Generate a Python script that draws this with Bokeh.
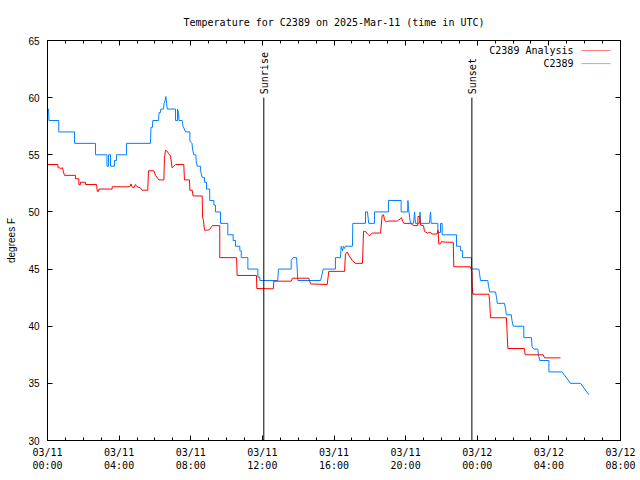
import math
from bokeh.plotting import figure
from bokeh.models import Range1d, FixedTicker, LinearAxis, Label, BoxAnnotation, CustomJSTickFormatter
from bokeh.core.properties import value
from bokeh.embed import file_html
from bokeh.resources import INLINE

title_text = "Temperature for C2389 on 2025-Mar-11 (time in UTC)"
y_label = "degrees F"
x_ticks = [0, 4, 8, 12, 16, 20, 24, 28, 32]
x_minor = list(range(0, 33))
x_tick_labels = ["03/11\n00:00", "03/11\n04:00", "03/11\n08:00", "03/11\n12:00",
                 "03/11\n16:00", "03/11\n20:00", "03/12\n00:00", "03/12\n04:00",
                 "03/12\n08:00"]
y_ticks = [30, 35, 40, 45, 50, 55, 60, 65]

series_names = ["C2389 Analysis", "C2389"]

# hours since 03/11 00:00 UTC, temperature in F (vertices of traced line)
analysis_hours = [
    0.00, 0.58, 0.59, 0.69, 0.73, 0.84, 0.89, 0.95, 1.56, 1.56,
    1.75, 1.75, 1.84, 1.84, 2.12, 2.12, 2.74, 2.78, 2.85, 2.87,
    3.61, 3.61, 4.60, 4.66, 4.72, 4.82, 4.91, 5.01, 5.19, 5.29,
    5.60, 5.64, 5.94, 6.03, 6.13, 6.22, 6.50, 6.53, 6.59, 6.69,
    6.76, 6.87, 6.96, 7.05, 7.15, 7.61, 7.65, 7.93, 7.95, 8.08,
    8.13, 8.64, 8.66, 8.71, 8.77, 8.94, 9.05, 9.16, 9.20, 9.62,
    9.62, 10.56, 10.59, 11.67, 11.69, 12.61, 12.64, 13.61, 13.68, 14.59,
    14.69, 15.62, 15.71, 16.59, 16.64, 16.74, 16.83, 17.02, 17.20, 17.59,
    17.65, 17.76, 17.87, 17.98, 18.13, 18.60, 18.69, 18.77, 18.82, 18.93,
    18.99, 19.53, 19.60, 19.71, 19.77, 19.83, 19.90, 20.27, 20.46, 20.68,
    20.69, 20.79, 20.83, 21.00, 21.05, 21.22, 21.39, 21.48, 21.76, 21.81,
    21.85, 21.95, 22.00, 22.23, 22.66, 22.69, 23.62, 23.70, 23.72, 23.76,
    24.65, 24.69, 24.74, 25.63, 25.71, 26.64, 26.67, 27.68, 27.76, 28.65,
]
analysis_temp = [
    54.15, 54.15, 53.86, 53.86, 53.8, 53.86, 53.5, 53.2, 53.2, 52.9,
    52.9, 52.4, 52.4, 52.6, 52.6, 52.4, 52.4, 51.8, 51.8, 52.0,
    52.0, 52.2, 52.2, 52.45, 52.2, 52.1, 52.4, 52.2, 52.1, 51.9,
    51.9, 53.6, 53.6, 53.2, 53.0, 52.8, 52.8, 54.7, 55.4, 55.3,
    55.1, 54.9, 53.86, 54.0, 54.15, 54.15, 52.8, 52.8, 51.9, 51.9,
    51.4, 51.4, 49.5, 49.25, 48.4, 48.4, 48.45, 48.7, 48.8, 48.8,
    46.0, 46.0, 44.44, 44.44, 43.3, 43.27, 43.94, 43.94, 44.2, 44.2,
    43.7, 43.65, 44.8, 44.8, 46.3, 46.5, 46.2, 45.75, 45.5, 45.5,
    48.3, 48.3, 48.07, 47.9, 48.15, 48.15, 49.7, 49.75, 49.3, 49.1,
    49.2, 49.2, 49.3, 49.4, 49.5, 49.2, 49.0, 49.0, 48.8, 48.8,
    49.6, 49.6, 48.85, 48.8, 48.3, 48.15, 48.2, 48.07, 48.07, 48.4,
    47.2, 47.2, 47.4, 47.35, 47.35, 45.2, 45.2, 44.8, 43.4, 42.8,
    42.8, 42.25, 40.74, 40.74, 38.05, 38.05, 37.5, 37.5, 37.23, 37.23,
]

obs_hours = [
    0.00, 0.06, 0.08, 0.63, 0.63, 1.51, 1.51, 2.68, 2.68, 3.32,
    3.32, 3.41, 3.41, 3.52, 3.52, 3.74, 3.74, 3.85, 3.85, 4.41,
    4.41, 5.75, 5.78, 5.86, 5.88, 6.20, 6.23, 6.31, 6.33, 6.48,
    6.51, 6.56, 6.61, 6.65, 6.69, 7.15, 7.15, 7.26, 7.26, 7.32,
    7.34, 7.52, 7.57, 7.71, 7.95, 7.95, 8.07, 8.10, 8.17, 8.29,
    8.30, 8.36, 8.55, 8.55, 8.64, 8.77, 8.77, 8.88, 8.88, 9.06,
    9.06, 9.29, 9.29, 9.38, 9.38, 9.66, 9.66, 10.07, 10.07, 10.37,
    10.37, 10.50, 10.50, 10.74, 10.74, 10.82, 10.82, 11.19, 11.19, 11.75,
    11.75, 11.86, 11.86, 12.86, 12.90, 13.61, 13.61, 13.72, 13.91, 13.98,
    15.25, 15.40, 16.08, 16.08, 16.36, 16.40, 16.48, 16.53, 16.59, 16.64,
    17.03, 17.05, 17.76, 17.76, 17.87, 17.94, 18.26, 18.26, 19.04, 19.04,
    19.75, 19.75, 20.11, 20.13, 20.16, 20.27, 20.44, 20.50, 20.55, 20.78,
    20.80, 20.83, 21.33, 21.39, 21.43, 21.80, 21.80, 21.95, 21.95, 22.04,
    22.04, 22.84, 22.84, 23.07, 23.07, 23.18, 23.18, 23.68, 23.68, 23.72,
    24.09, 24.13, 24.18, 24.59, 24.63, 24.70, 25.02, 25.08, 25.12, 25.52,
    25.58, 25.63, 25.90, 25.94, 26.01, 26.60, 26.60, 27.03, 27.06, 27.16,
    27.38, 27.42, 27.49, 28.00, 28.00, 28.74, 29.21, 29.77, 30.23,
]
obs_temp = [
    59, 59, 58, 58, 57, 57, 56, 56, 55, 55,
    54, 54, 55, 55, 54, 54, 54.5, 54.5, 55, 55,
    56, 56, 57.4, 57.4, 58, 58, 58.7, 58.7, 59, 59,
    59.5, 59.7, 60.1, 59.5, 59, 59, 58, 58, 59, 58.7,
    58, 58, 57.5, 57, 57, 56.2, 56, 55.5, 55, 55,
    54.5, 54, 54, 53.6, 53, 53, 52.6, 52.6, 52, 52,
    51, 51, 50.6, 50.6, 50, 50, 49, 49, 48, 48,
    47.5, 47.5, 47, 47, 46.6, 46.6, 46, 46, 45, 45,
    44.3, 44.3, 44, 44, 45, 45, 45.75, 46, 46, 44,
    44, 45, 45, 46, 46, 47, 46.6, 47, 46.8, 47,
    47, 49, 49, 50, 50, 49, 49, 50, 50, 51,
    51, 50, 50, 51, 50.3, 49, 49, 50, 49, 49,
    50, 49, 49, 50, 49, 49, 48.2, 48.2, 49, 49,
    48, 48, 47, 47, 46.6, 46.6, 46, 46, 45.2, 45,
    45, 44.6, 44, 44, 43.5, 43, 43, 42.5, 42, 42,
    41.5, 41, 41, 40.5, 40, 40, 39, 39, 38.2, 38,
    38, 37.5, 37, 37, 36, 36, 35, 35, 34,
]

event_names = ["Sunrise", "Sunset"]
event_hours = [12.08, 23.70]
event_low = [30, 30]
event_high = [60, 60]

assert len(analysis_hours) == len(analysis_temp)
assert len(obs_hours) == len(obs_temp)

MONO = "DejaVu Sans Mono"
SANS = "Liberation Sans"
RED = "#ff0000"
BLUE = "#0080ff"

p = figure(width=640, height=480, output_backend="svg", toolbar_location=None,
           x_range=Range1d(0, 32), y_range=Range1d(30, 65),
           min_border_left=47, min_border_right=20, min_border_top=40,
           min_border_bottom=40, x_axis_location=None, y_axis_location=None)
p.title.text = title_text
p.title.align = "center"
p.title.text_font = MONO
p.title.text_font_size = "10px"
p.title.text_font_style = "normal"
p.title.text_color = "black"
p.title.standoff = 25
p.xgrid.visible = False
p.ygrid.visible = False
p.outline_line_color = "black"
p.outline_line_width = 1
p.background_fill_color = "white"
p.border_fill_color = "white"


def style_axis(ax, labels):
    ax.major_tick_in = 5
    ax.major_tick_out = 0
    ax.minor_tick_in = 3
    ax.minor_tick_out = 0
    ax.axis_line_color = "black"
    ax.major_tick_line_color = "black"
    ax.minor_tick_line_color = "black"
    ax.major_label_text_color = "black"
    if not labels:
        ax.formatter = CustomJSTickFormatter(code="return ''")
        ax.major_label_standoff = 0


xb = LinearAxis(ticker=FixedTicker(ticks=x_ticks, minor_ticks=x_minor))
xb.major_label_overrides = {t: lab for t, lab in zip(x_ticks, x_tick_labels)}
xb.major_label_text_font = MONO
xb.major_label_text_font_size = "10px"
xb.major_label_standoff = 6
style_axis(xb, True)
p.add_layout(xb, "below")

xt = LinearAxis(ticker=FixedTicker(ticks=x_ticks, minor_ticks=x_minor))
style_axis(xt, False)
p.add_layout(xt, "above")

yl = LinearAxis(ticker=FixedTicker(ticks=y_ticks, minor_ticks=[]))
yl.major_label_text_font = SANS
yl.major_label_text_font_size = "10px"
yl.major_label_standoff = 8
yl.axis_label = y_label
yl.axis_label_text_font = SANS
yl.axis_label_text_font_size = "10px"
yl.axis_label_text_font_style = "normal"
yl.axis_label_text_color = "black"
yl.axis_label_standoff = 8
style_axis(yl, True)
p.add_layout(yl, "left")

yr = LinearAxis(ticker=FixedTicker(ticks=y_ticks, minor_ticks=[]))
style_axis(yr, False)
p.add_layout(yr, "right")

# data lines
p.line(obs_hours, obs_temp, line_color=BLUE, line_width=1)
p.line(analysis_hours, analysis_temp, line_color=RED, line_width=1)

# sunrise / sunset markers
p.segment(x0=event_hours, y0=event_low, x1=event_hours, y1=event_high,
          line_color="black", line_width=1)
p.text(x=event_hours, y=[h + 0.3 for h in event_high], text=event_names,
       angle=math.pi / 2, text_align="left", text_baseline="middle",
       text_font=value(MONO), text_font_size="10px", text_color="black",
       x_offset=1)

# key (gnuplot style: text then sample on the right)
key_text_x = 29.38
key_line_x0, key_line_x1 = 29.82, 31.44
key_rows = [64.12, 62.98]
for name, col, ky in zip(series_names, [RED, BLUE], key_rows):
    p.add_layout(Label(x=key_text_x, y=ky, text=name, text_align="right",
                       text_baseline="middle", text_font=MONO,
                       text_font_size="10px", text_color="black"))
    p.add_layout(BoxAnnotation(left=key_line_x0, right=key_line_x1,
                               bottom=ky, top=ky, fill_alpha=0,
                               line_color=col, line_width=1))

open("out.html", "w").write(file_html(p, INLINE))
